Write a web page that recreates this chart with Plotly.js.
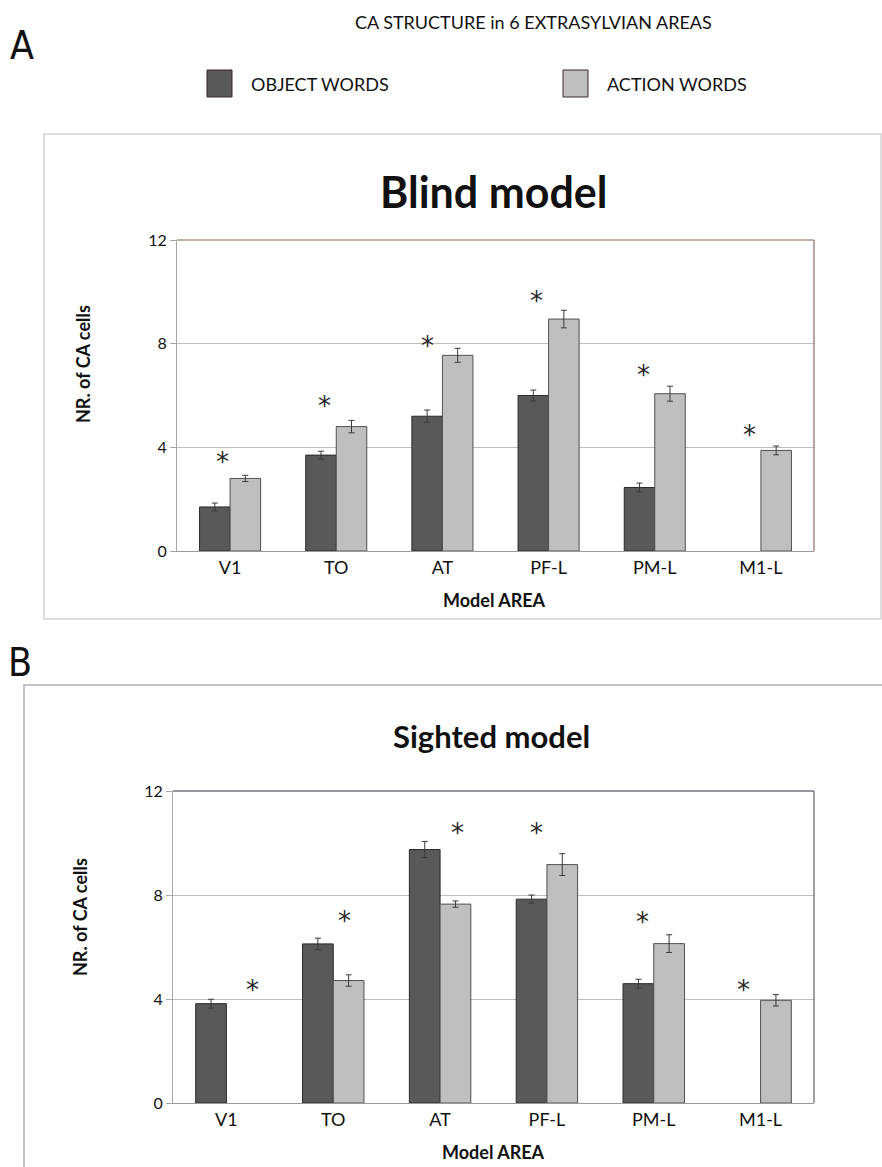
<!DOCTYPE html>
<html>
<head>
<meta charset="utf-8">
<script src="https://cdn.plot.ly/plotly-3.0.1.min.js"></script>
<style>
html,body{margin:0;padding:0;background:#fff;}
#chart{width:882px;height:1167px;}
</style>
</head>
<body>
<div id="chart"></div>
<script>
// ---- data ----
const categories = ['V1', 'TO', 'AT', 'PF-L', 'PM-L', 'M1-L'];
const seriesNames = ['OBJECT WORDS', 'ACTION WORDS'];

const blindObject    = [1.70, 3.70, 5.20, 6.00, 2.45, null];
const blindObjectErr = [0.15, 0.15, 0.24, 0.21, 0.17, null];
const blindAction    = [2.80, 4.80, 7.55, 8.95, 6.07, 3.88];
const blindActionErr = [0.12, 0.24, 0.27, 0.34, 0.29, 0.17];
const blindSigY      = [3.66, 5.83, 8.14, 9.88, 7.02, 4.70];

const sightedObject    = [3.82, 6.12, 9.75, 7.84, 4.59, null];
const sightedObjectErr = [0.17, 0.22, 0.31, 0.16, 0.17, null];
const sightedAction    = [null, 4.71, 7.65, 9.17, 6.13, 3.95];
const sightedActionErr = [null, 0.22, 0.12, 0.42, 0.34, 0.22];
const sightedSigY      = [4.57, 7.23, 10.6, 10.6, 7.20, 4.57];

const yTicks = [0, 4, 8, 12];

// ---- style / layout helpers ----
const W = 882, H = 1167;
const px = x => x / W;
const py = y => 1 - y / H;
const FONT = 'Lato, "Open Sans", "Liberation Sans", sans-serif';
const objColor = '#595959', actColor = '#bfbfbf';
const blindSigShift = [-8, -12, -15, -12, -11, -11];
const sightedSigShift = [26, 11, 17, -10, -11, -17];

function barTrace(y, err, name, color, lineColor, xa, ya) {
  return {
    type: 'bar', x: categories, y: y, name: name, xaxis: xa, yaxis: ya,
    marker: {color: color, line: {color: lineColor, width: 1}},
    error_y: {type: 'data', array: err, visible: true, color: '#3a3a3a', thickness: 1, width: 3},
    showlegend: false, hoverinfo: 'x+y'
  };
}

const data = [
  barTrace(blindObject, blindObjectErr, seriesNames[0], objColor, '#2a2a2a', 'x', 'y'),
  barTrace(blindAction, blindActionErr, seriesNames[1], actColor, '#505050', 'x', 'y'),
  barTrace(sightedObject, sightedObjectErr, seriesNames[0], objColor, '#2a2a2a', 'x2', 'y2'),
  barTrace(sightedAction, sightedActionErr, seriesNames[1], actColor, '#505050', 'x2', 'y2')
];

function xAxis(domain, anchor) {
  return {
    domain: domain, anchor: anchor, type: 'category',
    showline: true, linecolor: '#9a9a9a', linewidth: 1,
    ticks: '', tickfont: {family: FONT, size: 18, color: '#111'},
    showgrid: false, zeroline: false, fixedrange: true
  };
}
function yAxis(domain, anchor) {
  return {
    domain: domain, anchor: anchor, range: [0, 12], tickvals: yTicks,
    ticktext: yTicks.map(String),
    showline: true, linecolor: '#a8a8a8', linewidth: 1,
    ticks: 'outside', ticklen: 6, tickcolor: '#a8a8a8',
    tickfont: {family: FONT, size: 16, color: '#111'},
    showgrid: true, gridcolor: '#bdbdbd', gridwidth: 1,
    zeroline: false, fixedrange: true
  };
}

const annotations = [];
function addText(text, x, y, size, opts) {
  annotations.push(Object.assign({
    text: text, xref: 'paper', yref: 'paper', x: px(x), y: py(y),
    xanchor: 'center', yanchor: 'middle', showarrow: false,
    font: {family: FONT, size: size, color: '#111'}
  }, opts || {}));
}
const NARROW = '"Liberation Sans Narrow", "DejaVu Sans Condensed", sans-serif';
// page titles
addText('CA STRUCTURE in 6 EXTRASYLVIAN AREAS', 533, 22, 18);
addText('A', 22, 45, 39, {font: {family: NARROW, size: 39, color: '#111'}});
addText('B', 20, 662, 39, {font: {family: NARROW, size: 39, color: '#111'}});
// legend
addText(seriesNames[0], 249, 84, 18, {xanchor: 'left'});
addText(seriesNames[1], 605, 84, 18, {xanchor: 'left'});
// panel titles
addText('<b>Blind model</b>', 493, 191, 43);
addText('<b>Sighted model</b>', 491, 736, 31);
// y titles
addText('<b>NR. of CA cells</b>', 83, 364, 18, {textangle: -90});
addText('<b>NR. of CA cells</b>', 80, 917, 18, {textangle: -90});
// x titles
addText('<b>Model AREA</b>', 495, 600, 18);
addText('<b>Model AREA</b>', 493, 1152, 18);

// significance asterisks
const STAR_FONT = {family: '"DejaVu Sans", sans-serif', size: 26, color: '#2a2a2a'};
categories.forEach((c, i) => {
  annotations.push({text: '*', x: c, y: blindSigY[i], xref: 'x', yref: 'y', showarrow: false,
    xanchor: 'center', yanchor: 'middle', xshift: blindSigShift[i], yshift: -6, font: STAR_FONT});
  annotations.push({text: '*', x: c, y: sightedSigY[i], xref: 'x2', yref: 'y2', showarrow: false,
    xanchor: 'center', yanchor: 'middle', xshift: sightedSigShift[i], yshift: -6, font: STAR_FONT});
});

const shapes = [
  // panel frames
  {type: 'rect', xref: 'paper', yref: 'paper', x0: px(44), x1: px(881), y0: py(619), y1: py(134),
   line: {color: '#d2d2d2', width: 1.5}, fillcolor: 'rgba(0,0,0,0)'},
  {type: 'rect', xref: 'paper', yref: 'paper', x0: px(24), x1: px(890), y0: py(1180), y1: py(685),
   line: {color: '#a9b0bd', width: 1.5}, fillcolor: 'rgba(0,0,0,0)'},
  // legend swatches
  {type: 'rect', xref: 'paper', yref: 'paper', x0: px(207), x1: px(232), y0: py(97), y1: py(70),
   line: {color: '#3a2a2a', width: 1}, fillcolor: objColor},
  {type: 'rect', xref: 'paper', yref: 'paper', x0: px(563), x1: px(588), y0: py(97), y1: py(70),
   line: {color: '#3a2a2a', width: 1}, fillcolor: actColor},
  // plot-area top/right borders
  {type: 'line', xref: 'x domain', yref: 'y domain', x0: 0, x1: 1, y0: 1, y1: 1, line: {color: '#8c5a55', width: 1.2}},
  {type: 'line', xref: 'x domain', yref: 'y domain', x0: 1, x1: 1, y0: 0, y1: 1, line: {color: '#8c6a66', width: 1.2}},
  {type: 'line', xref: 'x2 domain', yref: 'y2 domain', x0: 0, x1: 1, y0: 1, y1: 1, line: {color: '#2e3040', width: 1.2}},
  {type: 'line', xref: 'x2 domain', yref: 'y2 domain', x0: 1, x1: 1, y0: 0, y1: 1, line: {color: '#6a5e5e', width: 1.2}}
];

const layout = {
  width: W, height: H,
  margin: {l: 0, r: 0, t: 0, b: 0},
  paper_bgcolor: '#fff', plot_bgcolor: '#fff',
  barmode: 'group', bargap: 0.425, bargroupgap: 0,
  showlegend: false,
  font: {family: FONT, color: '#111'},
  xaxis: xAxis([px(177), px(814)], 'y'),
  yaxis: yAxis([py(551), py(240)], 'x'),
  xaxis2: xAxis([px(173), px(814)], 'y2'),
  yaxis2: yAxis([py(1103), py(791)], 'x2'),
  annotations: annotations,
  shapes: shapes
};

Plotly.newPlot('chart', data, layout, {displayModeBar: false, staticPlot: true});
</script>
</body>
</html>
